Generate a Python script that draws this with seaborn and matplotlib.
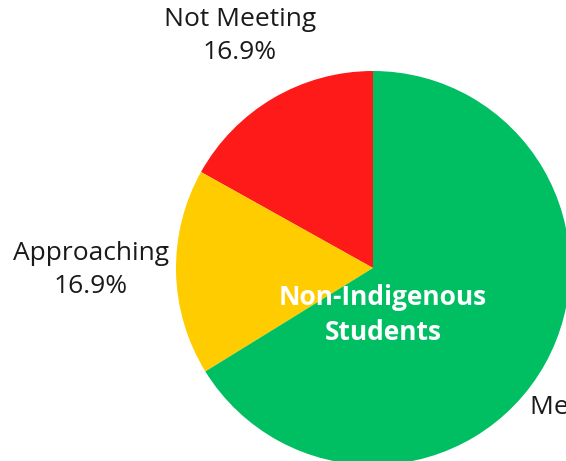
import matplotlib
matplotlib.use("Agg")
import matplotlib.pyplot as plt
import seaborn as sns
import numpy as np

sns.set_theme(style="white")
plt.rcParams['font.family'] = ['Open Sans', 'DejaVu Sans']

# data
categories = ['Not Meeting', 'Approaching', 'Meeting']
shares = [16.9, 16.9, 66.2]
colors = ['#FF1A1A', '#FFCC00', '#00BF63']
center_title = 'Non-Indigenous\nStudents'

fig = plt.figure(figsize=(5.66, 4.61), dpi=100)
ax = fig.add_axes([0, 0, 1, 1])

cx, cy, r = 373, 193, 197
ax.pie(shares, colors=colors, startangle=90, counterclock=True,
       center=(cx, cy), radius=r, wedgeprops=dict(linewidth=0))

# label offsets in radius units, relative to the pie centre
label_pos = [(-0.675, 1.178, 'center', '\n'),
             (-1.431, -0.010, 'center', '\n'),
             (0.797, -0.706, 'left', ' ')]
for name, val, (dx, dy, ha, sep) in zip(categories, shares, label_pos):
    ax.text(cx + dx * r, cy + dy * r, f'{name}{sep}{val:.1f}%',
            ha=ha, va='center', fontsize=19, color='#1a1a1a',
            linespacing=1.4)

ax.text(cx + 0.051 * r, cy - 0.239 * r, center_title, ha='center', va='center',
        fontsize=19, fontweight='bold', color='white', linespacing=1.4)

ax.set_xlim(0, 566)
ax.set_ylim(0, 461)
ax.set_aspect('equal')
ax.axis('off')

fig.savefig('out.png', dpi=100)
